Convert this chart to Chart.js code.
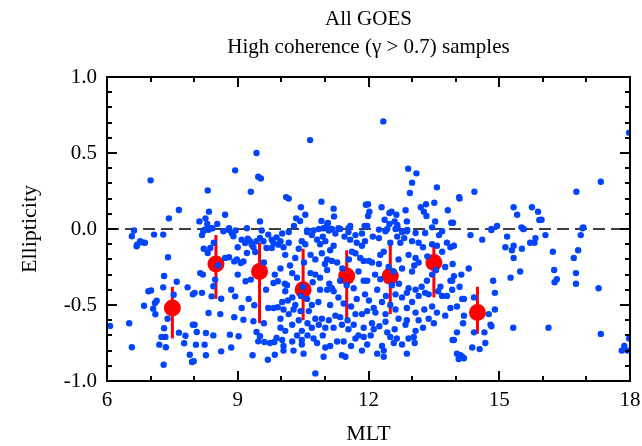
<!DOCTYPE html>
<html>
<head>
<meta charset="utf-8">
<script src="https://cdn.jsdelivr.net/npm/chart.js@4"></script>
<style>
  body { margin: 0; background: #fff; }
  canvas { display: block; }
</style>
</head>
<body>
<canvas id="grafik" width="642" height="446"></canvas>
<script>
// -------- DATA --------
// blue samples: [MLT, ellipticity]
const sampel = [
  [7.00,0.32],[7.42,0.07],[7.65,0.125],[6.62,-0.01],
  [9.43,0.50],[8.94,0.386],[9.47,0.344],[9.53,0.333],[8.31,0.254],[9.30,0.245],[8.34,0.114],[8.71,0.094],
  [8.12,0.05],[8.26,0.07],[8.30,0.033],[8.53,0.033],[9.51,0.05],[8.37,0.005],[8.42,0.005],[8.24,-0.005],
  [8.80,0.005],[9.21,0.005],[8.95,-0.01],[9.55,-0.01],
  [10.66,0.585],[10.11,0.21],[10.17,0.20],[10.92,0.18],[10.45,0.143],[11.20,0.134],[10.34,0.07],[10.43,0.053],
  [10.55,0.094],[10.92,0.053],[11.07,0.04],[11.05,0.03],[11.21,0.083],[10.29,0.02],[10.59,-0.01],[10.74,-0.01],
  [10.97,0.005],[11.08,0],[11.16,0],[11.31,0.005],[11.54,0.005],[11.58,0.02],[11.91,0.02],[11.94,0.16],
  [12.34,0.708],[12.91,0.397],[13.10,0.366],[13.00,0.305],[12.95,0.237],[13.57,0.274],[11.99,0.163],[12.02,0.114],
  [11.99,0.086],[12.30,0.143],[12.48,0.105],[12.53,0.114],[12.64,0.094],[12.37,0.061],[12.85,0.123],[12.88,0.05],
  [13.20,0.143],[13.27,0.114],[13.33,0.086],[13.32,0.163],[13.51,0.173],[13.53,0.05],[13.82,0.123],[13.90,0.041],
  [12.60,0.05],[12.48,0.033],[12.66,0.026],[12.67,0.005],[12.43,0],[12.89,-0.007],[13.46,0.011],[11.97,0.02],
  [14.08,0.21],[14.09,0.20],[14.43,0.245],[15.33,0.143],[15.41,0.094],[15.75,0.143],[15.89,0.114],[15.92,0.059],
  [13.94,0.041],[14.95,0.02],[14.82,-0.007],[15.51,0.011],[15.55,0],
  [17.98,0.634],[17.33,0.311],[16.77,0.245],[15.97,0.061],[16.93,0.011],
  [6.57,-0.048],[7.08,-0.037],[7.29,-0.037],[6.76,-0.081],[6.81,-0.088],[6.87,-0.09],[6.69,-0.103],[6.68,-0.114],
  [7.40,-0.186],[7.31,-0.309],[7.60,-0.347],[7.29,-0.384],[7.85,-0.384],[6.95,-0.41],[7.01,-0.404],[7.53,-0.432],
  [7.14,-0.472],[7.10,-0.487],[6.85,-0.505],[7.06,-0.524],[7.11,-0.561],[7.39,-0.59],[6.07,-0.638],[6.51,-0.62],
  [7.31,-0.653],[7.65,-0.682],[7.25,-0.71],[7.34,-0.71],[7.80,-0.702],[7.77,-0.752],[7.20,-0.761],[7.35,-0.778],
  [6.57,-0.778],[7.90,-0.827],[7.95,-0.875],[7.30,-0.893],[7.97,-0.43],[7.97,-0.63],
  [8.21,-0.015],[8.33,-0.005],[8.18,-0.04],[8.67,-0.015],[8.79,-0.005],[8.86,-0.026],[8.90,-0.048],
  [8.22,-0.13],[8.31,-0.158],[8.37,-0.125],[9.09,-0.07],[9.17,-0.092],[9.23,-0.064],[9.28,-0.081],[9.32,-0.103],[9.36,-0.12],
  [9.43,-0.081],[9.51,-0.059],[9.59,-0.081],[9.70,-0.037],[9.78,-0.07],[9.82,-0.092],[9.89,-0.055],[9.93,-0.103],
  [9.21,-0.158],[9.40,-0.151],[9.66,-0.125],[9.78,-0.125],[8.71,-0.19],[8.80,-0.186],[8.92,-0.213],[8.98,-0.201],
  [9.07,-0.224],[9.13,-0.213],[8.14,-0.29],[8.48,-0.333],[8.44,-0.377],[9.18,-0.344],[9.30,-0.333],[9.85,-0.30],
  [9.92,-0.344],[9.82,-0.355],[8.01,-0.42],[8.18,-0.42],[8.40,-0.443],[8.62,-0.459],[8.94,-0.443],[9.38,-0.502],
  [9.70,-0.52],[9.82,-0.52],[9.92,-0.515],[8.33,-0.553],[9.09,-0.52],[8.92,-0.58],[9.13,-0.597],[8.01,-0.63],
  [8.06,-0.678],[9.36,-0.607],[9.43,-0.678],[9.51,-0.706],[8.27,-0.684],[8.44,-0.70],[8.82,-0.695],[9.02,-0.706],
  [9.47,-0.739],[9.61,-0.743],[9.74,-0.75],[9.84,-0.743],[9.89,-0.717],[8.04,-0.761],[8.24,-0.761],[8.62,-0.805],
  [8.27,-0.831],[7.99,-0.87],[9.34,-0.831],[9.69,-0.86],[9.85,-0.827],
  [10.02,-0.03],[10.17,-0.02],[10.59,-0.02],[10.70,-0.04],[10.86,0],[11.09,-0.01],[11.24,-0.03],[11.35,0],
  [11.54,-0.02],[11.70,-0.04],[11.85,-0.03],[9.98,-0.08],[10.17,-0.09],[10.47,-0.08],[10.82,-0.07],[10.89,-0.10],
  [11.01,-0.08],[11.20,-0.11],[11.58,-0.07],[11.73,-0.09],[11.85,-0.11],[11.92,-0.08],[10.32,-0.19],[10.09,-0.17],
  [10.67,-0.17],[10.78,-0.20],[10.93,-0.16],[11.05,-0.20],[11.16,-0.21],[11.28,-0.22],[11.70,-0.16],[11.81,-0.19],
  [11.89,-0.21],[9.98,-0.26],[10.25,-0.29],[10.36,-0.32],[10.13,-0.37],[10.67,-0.29],[10.78,-0.30],[10.89,-0.32],
  [11.05,-0.27],[11.16,-0.39],[11.35,-0.34],[11.77,-0.28],[11.89,-0.34],[11.66,-0.39],[10.09,-0.41],[10.25,-0.45],
  [10.02,-0.48],[10.32,-0.50],[10.59,-0.46],[10.70,-0.50],[10.89,-0.40],[11.05,-0.40],[11.20,-0.41],[11.31,-0.45],
  [11.43,-0.49],[11.73,-0.46],[11.92,-0.43],[10.05,-0.53],[10.28,-0.53],[10.17,-0.56],[9.98,-0.59],[10.44,-0.54],
  [10.63,-0.54],[10.78,-0.59],[10.93,-0.59],[11.09,-0.60],[11.24,-0.57],[11.70,-0.56],[11.85,-0.56],[11.66,-0.63],
  [11.89,-0.65],[9.98,-0.65],[10.09,-0.67],[10.25,-0.63],[10.36,-0.70],[10.47,-0.67],[10.70,-0.65],[10.86,-0.63],
  [11.01,-0.65],[11.20,-0.65],[11.39,-0.63],[11.54,-0.66],[11.77,-0.70],[11.89,-0.71],[10.02,-0.73],[10.05,-0.77],
  [10.47,-0.73],[10.47,-0.76],[10.74,-0.72],[10.82,-0.75],[11.01,-0.78],[11.12,-0.77],[11.28,-0.74],[11.43,-0.74],
  [11.70,-0.72],[10.05,-0.80],[10.28,-0.80],[10.51,-0.82],[10.97,-0.84],[11.39,-0.83],[11.47,-0.84],[10.78,-0.95],
  [12.24,-0.004],[12.39,-0.015],[12.62,0],[12.77,-0.02],[12.88,-0.015],[13.08,-0.026],[13.30,-0.026],[13.69,-0.015],
  [12.24,-0.06],[12.66,-0.05],[12.73,-0.09],[13.00,-0.08],[13.15,-0.09],[13.46,-0.10],[13.57,-0.11],[13.80,-0.09],
  [13.88,-0.12],[12.01,-0.21],[12.08,-0.22],[12.27,-0.17],[12.35,-0.15],[12.69,-0.20],[12.92,-0.17],[13.08,-0.19],
  [13.15,-0.22],[13.69,-0.15],[13.76,-0.25],[12.24,-0.23],[12.46,-0.25],[12.77,-0.26],[13.00,-0.28],[13.46,-0.30],
  [11.97,-0.34],[12.27,-0.33],[12.54,-0.37],[12.92,-0.39],[13.08,-0.40],[13.34,-0.34],[13.65,-0.38],[13.88,-0.34],
  [12.01,-0.47],[12.31,-0.48],[12.62,-0.43],[12.77,-0.45],[12.88,-0.42],[13.15,-0.44],[13.30,-0.42],[13.38,-0.43],
  [13.69,-0.44],[13.80,-0.44],[11.97,-0.54],[12.16,-0.55],[12.39,-0.56],[12.62,-0.53],[12.88,-0.52],[13.08,-0.55],
  [13.46,-0.51],[13.57,-0.55],[13.76,-0.57],[13.88,-0.52],[12.08,-0.62],[12.39,-0.61],[12.69,-0.59],[12.88,-0.60],
  [13.15,-0.60],[13.38,-0.59],[12.12,-0.66],[12.43,-0.68],[12.50,-0.71],[12.85,-0.63],[12.92,-0.72],[13.08,-0.67],
  [13.04,-0.71],[11.97,-0.76],[12.31,-0.77],[12.35,-0.80],[12.58,-0.75],[12.77,-0.76],[13.06,-0.75],[12.35,-0.84],
  [12.88,-0.82],[13.93,-0.73],[13.93,-0.23],
  [14.34,-0.04],[14.61,-0.07],[14.82,0],[15.18,-0.05],[15.14,-0.12],[15.33,-0.11],[15.29,-0.14],[15.52,-0.13],
  [15.33,-0.19],[15.71,-0.09],[15.81,-0.09],[15.83,-0.06],[15.56,0],[13.96,-0.11],[14.30,-0.26],[14.13,-0.30],
  [13.96,-0.31],[13.92,-0.34],[15.48,-0.28],[15.26,-0.32],[14.86,-0.34],[14.90,-0.42],[14.09,-0.38],[13.92,-0.40],
  [14.15,-0.46],[14.19,-0.46],[14.42,-0.45],[14.03,-0.51],[14.19,-0.57],[14.17,-0.62],[14.90,-0.53],[14.76,-0.56],
  [14.80,-0.63],[14.82,-0.64],[15.32,-0.65],[14.03,-0.68],[14.42,-0.68],[14.66,-0.68],[13.96,-0.73],[14.68,-0.75],
  [14.38,-0.78],[14.55,-0.79],[14.03,-0.82],[14.11,-0.83],[14.15,-0.84],[14.07,-0.855],[14.19,-0.85],
  [16.06,-0.04],[16.87,-0.04],[16.91,0.005],[16.23,-0.15],[16.81,-0.14],[16.71,-0.19],[16.26,-0.27],[16.76,-0.29],
  [16.32,-0.33],[16.27,-0.35],[16.76,-0.36],[17.28,-0.39],[16.13,-0.65],[17.33,-0.69],[17.98,-0.72],[17.87,-0.77],
  [17.94,-0.80],[17.81,-0.80],
  [10.05,-0.12],[10.40,-0.13],[10.55,-0.10],[10.95,-0.05],[11.12,-0.14],[11.45,-0.05],[11.62,-0.15],[12.10,-0.05],
  [12.50,-0.09],[12.82,-0.06],[13.25,-0.12],[13.62,-0.04],[10.20,-0.24],[10.52,-0.22],[11.00,-0.23],[11.40,-0.26],
  [11.55,-0.20],[12.15,-0.30],[12.58,-0.28],[13.05,-0.24],[13.35,-0.18],[13.55,-0.27],[10.08,-0.36],[10.50,-0.38],
  [10.72,-0.35],[11.10,-0.36],[11.50,-0.37],[12.20,-0.40],[12.40,-0.44],[12.70,-0.36],[13.22,-0.38],[13.60,-0.41],
  [10.15,-0.47],[10.45,-0.44],[10.85,-0.48],[11.12,-0.50],[11.60,-0.51],[12.12,-0.52],[12.50,-0.50],[13.00,-0.48],
  [13.28,-0.53],[10.40,-0.60],[10.60,-0.62],[11.35,-0.58],[11.52,-0.60],[12.25,-0.64],[12.60,-0.66],[13.25,-0.65],
  [13.50,-0.62],[10.25,-0.74],[10.60,-0.70],[10.95,-0.70],[11.60,-0.77],[12.05,-0.70],[12.65,-0.72],[12.20,-0.82],
  [11.85,-0.80],[8.55,-0.24],[8.20,-0.30],[8.60,-0.56],[8.85,-0.40],[9.00,-0.30],[9.60,-0.22],[9.65,-0.40],
  [9.25,-0.46],[8.45,-0.09],[9.00,-0.12],[9.60,-0.62],[8.85,-0.78]
];

// red binned points
const binMlt  = [7.5, 8.5, 9.5, 10.5, 11.5, 12.5, 13.5, 14.5];
const binMean = [-0.52, -0.23, -0.28, -0.40, -0.31, -0.31, -0.22, -0.55];
const binLow  = [-0.72, -0.46, -0.62, -0.60, -0.59, -0.56, -0.45, -0.69];
const binHigh = [-0.38, -0.04, -0.09, -0.13, -0.14, -0.08, -0.11, -0.38];

const xTicks = [6, 9, 12, 15, 18];
const yTicks = [-1.0, -0.5, 0.0, 0.5, 1.0];

const judul1 = "All GOES";
const judul2 = "High coherence (\u03b3 > 0.7) samples";
const labelX = "MLT";
const labelY = "Ellipticity";

const FONT = "'Liberation Serif', 'Times New Roman', serif";

// -------- PLUGIN: frame, ticks, error bars, titles --------
const bingkai = {
    id: "bingkai",
    beforeDatasetDraw(chart, args) {
        if (args.index !== 2) return;
        const ctx = chart.ctx;
        const sx = chart.scales.x, sy = chart.scales.y;
        ctx.save();
        ctx.fillStyle = "#ff0000";
        binMlt.forEach((m, i) => {
            const px = sx.getPixelForValue(m);
            const y1 = sy.getPixelForValue(binHigh[i]);
            const y2 = sy.getPixelForValue(binLow[i]);
            ctx.fillRect(px - 1.5, y1, 3, y2 - y1);
        });
        ctx.restore();
    },
    afterDraw(chart) {
        const ctx = chart.ctx;
        const a = chart.chartArea;
        const sx = chart.scales.x, sy = chart.scales.y;
        const L = Math.round(a.left), R = Math.round(a.right);
        const T = Math.round(a.top), B = Math.round(a.bottom);
        ctx.save();
        ctx.setLineDash([]);
        ctx.globalAlpha = 1;
        ctx.globalCompositeOperation = "source-over";
        ctx.fillStyle = "#000";
        // frame
        ctx.fillRect(L - 1, T - 1, R - L + 2, 2);
        ctx.fillRect(L - 1, B - 1, R - L + 2, 2);
        ctx.fillRect(L - 1, T - 1, 2, B - T + 2);
        ctx.fillRect(R - 1, T - 1, 2, B - T + 2);
        // ticks on all four sides
        for (let v = 6; v <= 18; v++) {
            const px = Math.round(sx.getPixelForValue(v));
            const len = xTicks.includes(v) ? 10 : 5;
            ctx.fillRect(px - 1, B - len, 2, len);
            ctx.fillRect(px - 1, T, 2, len);
        }
        for (let k = -10; k <= 10; k++) {
            const py = Math.round(sy.getPixelForValue(k / 10));
            const len = (k % 5 === 0) ? 10 : 5;
            ctx.fillRect(L, py - 1, len, 2);
            ctx.fillRect(R - len, py - 1, len, 2);
        }

        ctx.textAlign = "center";
        ctx.textBaseline = "middle";
        const cx = (a.left + a.right) / 2;
        ctx.font = "21px " + FONT;
        ctx.fillText(judul1, cx, 19);
        ctx.fillText(judul2, cx, 47);
        ctx.font = "22px " + FONT;
        ctx.fillText(labelX, cx, 434);
        ctx.translate(30, (a.top + a.bottom) / 2);
        ctx.rotate(-Math.PI / 2);
        ctx.fillText(labelY, 0, 0);
        ctx.restore();
    }
};

// -------- GRAFIK --------
new Chart(document.getElementById("grafik"), {
    type: "scatter",
    data: {
        datasets: [
            {
                data: sampel.map(p => ({ x: p[0], y: p[1] })),
                backgroundColor: "#0044ff",
                borderWidth: 0,
                pointRadius: 3.2
            },
            {
                type: "line",
                data: [{ x: 6, y: 0 }, { x: 18, y: 0 }],
                borderColor: "#000",
                borderWidth: 1.5,
                borderDash: [12, 6],
                pointRadius: 0,
                fill: false
            },
            {
                data: binMlt.map((m, i) => ({ x: m, y: binMean[i] })),
                backgroundColor: "#ff0000",
                borderWidth: 0,
                pointRadius: 8.5
            }
        ]
    },
    options: {
        responsive: false,
        animation: false,
        devicePixelRatio: 1,
        layout: { padding: { top: 77, right: 12, left: 0, bottom: 0 } },
        plugins: { legend: { display: false }, tooltip: { enabled: false }, title: { display: false } },
        scales: {
            x: {
                type: "linear", min: 6, max: 18,
                grid: { display: false },
                border: { display: false },
                afterBuildTicks: s => { s.ticks = xTicks.map(v => ({ value: v })); },
                ticks: { color: "#000", padding: -1, font: { family: FONT, size: 21 } },
                afterFit: s => { s.height = 65; }
            },
            y: {
                min: -1, max: 1,
                grid: { display: false },
                border: { display: false },
                afterBuildTicks: s => { s.ticks = yTicks.map(v => ({ value: v })); },
                ticks: { color: "#000", padding: 2, font: { family: FONT, size: 21 },
                         callback: v => v.toFixed(1) },
                afterFit: s => { s.width = 107; }
            }
        }
    },
    plugins: [bingkai]
});
</script>
</body>
</html>
